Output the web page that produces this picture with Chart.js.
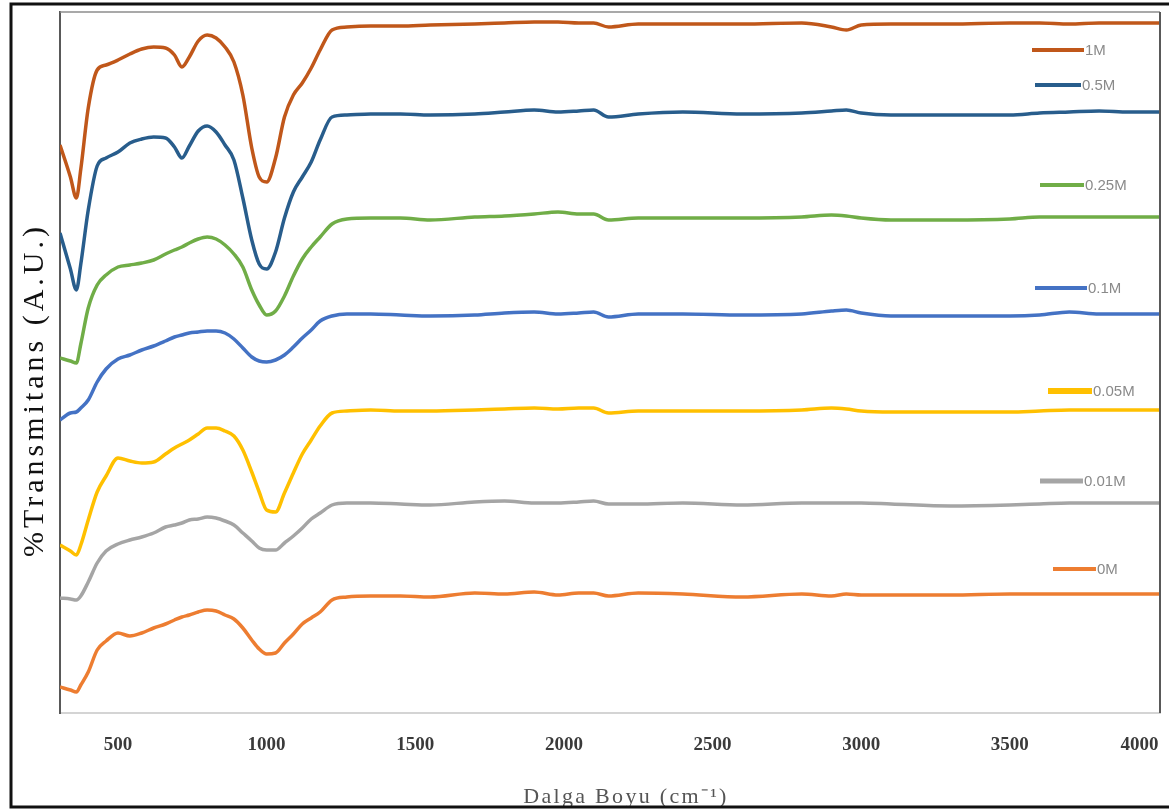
<!DOCTYPE html>
<html>
<head>
<meta charset="utf-8">
<script src="https://cdn.jsdelivr.net/npm/chart.js@4.4.1/dist/chart.umd.min.js"></script>
<style>
    html, body { margin: 0; padding: 0; background: #ffffff; }
    #wrap { position: relative; width: 1169px; height: 811px; }
</style>
</head>
<body>
<div id="wrap"><canvas id="chartFtir"></canvas></div>
<script>
// wavenumber (cm-1) sample points shared by every spectrum
const wavenumbers = [305, 340, 360, 375, 400, 430, 460, 500, 540, 580, 620, 660, 690, 715, 740, 770, 800, 830, 860, 890,
    920, 950, 975, 1000, 1030, 1060, 1090, 1120, 1150, 1180, 1220, 1270, 1350, 1450, 1550, 1700, 1800, 1900, 1980, 2050,
    2100, 2150, 2250, 2400, 2600, 2800, 2900, 2950, 3000, 3100, 3300, 3500, 3600, 3700, 3800, 3900, 4005];

// transmittance, arbitrary units (curves are stacked with offsets)
const t1M = [568, 536, 515, 544, 605, 643, 648, 653, 659, 664, 666, 665, 658, 646, 656, 672, 678, 675, 666, 651,
    618, 565, 536, 531, 555, 596, 618, 630, 645, 663, 683, 686, 687, 687, 688, 689, 690, 691, 691, 690,
    690, 686, 689, 689, 689, 690, 686, 683, 688, 689, 689, 690, 690, 689, 690, 690, 690];
const t05M = [480, 444, 423, 449, 503, 547, 555, 561, 570, 574, 576, 575, 566, 555, 567, 582, 587, 581, 568, 553,
    515, 473, 449, 444, 461, 495, 521, 536, 551, 573, 596, 598, 599, 599, 598, 599, 601, 603, 601, 602,
    603, 596, 599, 601, 599, 600, 602, 603, 600, 598, 598, 598, 600, 601, 602, 601, 601];
const t025M = [355, 352, 350, 369, 405, 428, 438, 446, 448, 450, 453, 459, 463, 466, 470, 474, 476, 474, 468, 459,
    446, 423, 408, 398, 402, 417, 437, 454, 466, 476, 489, 494, 495, 495, 493, 496, 497, 499, 501, 499,
    499, 493, 495, 495, 495, 496, 498, 497, 495, 493, 493, 494, 496, 496, 496, 496, 496];
const t01M = [293, 300, 301, 305, 313, 331, 344, 354, 358, 363, 367, 372, 376, 378, 380, 381, 382, 382, 380, 374,
    365, 356, 352, 351, 353, 358, 366, 375, 383, 392, 397, 399, 399, 398, 397, 398, 400, 401, 399, 400,
    401, 396, 399, 399, 398, 399, 402, 403, 400, 397, 397, 397, 398, 401, 399, 399, 399];
const t005M = [168, 162, 158, 168, 193, 221, 237, 255, 252, 250, 251, 259, 265, 269, 273, 279, 285, 285, 282, 277,
    263, 241, 221, 203, 201, 220, 240, 259, 273, 287, 300, 302, 303, 302, 302, 303, 304, 305, 304, 305,
    305, 300, 302, 302, 302, 303, 305, 304, 302, 301, 301, 301, 302, 303, 303, 303, 303];
const t001M = [115, 114, 113, 117, 131, 150, 162, 169, 173, 176, 180, 186, 188, 190, 193, 194, 196, 195, 192, 188,
    180, 172, 165, 163, 163, 170, 177, 185, 194, 200, 208, 210, 210, 209, 208, 211, 212, 210, 210, 211,
    212, 209, 209, 210, 208, 210, 210, 210, 210, 209, 207, 208, 209, 210, 210, 210, 210];
const t0M = [26, 23, 21, 28, 41, 63, 72, 80, 77, 80, 85, 89, 93, 96, 98, 101, 103, 102, 98, 94,
    85, 73, 64, 59, 60, 70, 79, 89, 95, 101, 113, 116, 117, 117, 116, 120, 119, 121, 118, 120,
    120, 117, 120, 119, 116, 119, 117, 119, 118, 118, 118, 119, 119, 119, 119, 119, 119];

const seriesLabels = ['1M', '0.5M', '0.25M', '0.1M', '0.05M', '0.01M', '0M'];
const tickValues = [500, 1000, 1500, 2000, 2500, 3000, 3500, 4000];

(() => {
    const palette = ['#c0571a', '#285d8c', '#70ad47', '#4472c4', '#ffc000', '#a5a5a5', '#ed7d31'];
    const seriesValues = [t1M, t05M, t025M, t01M, t005M, t001M, t0M];
    const serif = '"Liberation Serif", "Times New Roman", serif';

    // legend entries sit at hand-placed spots inside the plot, like the original figure
    const legendSpots = [
        { x1: 1032, x2: 1084, y: 50, w: 4 },
        { x1: 1035, x2: 1081, y: 85, w: 4 },
        { x1: 1040, x2: 1084, y: 185, w: 4 },
        { x1: 1035, x2: 1087, y: 288, w: 4 },
        { x1: 1048, x2: 1092, y: 391, w: 6 },
        { x1: 1040, x2: 1083, y: 481, w: 5 },
        { x1: 1053, x2: 1096, y: 569, w: 4 }
    ];

    const figurePlugin = {
        id: 'figureDecor',
        afterDraw(chart) {
            const { ctx, chartArea: area } = chart;
            ctx.save();
            // plot frame
            ctx.lineWidth = 1.5;
            ctx.strokeStyle = '#8c8c8c';
            ctx.beginPath();
            ctx.moveTo(area.left, area.top);
            ctx.lineTo(area.right, area.top);
            ctx.stroke();
            ctx.lineWidth = 2;
            ctx.strokeStyle = '#595959';
            ctx.beginPath();
            ctx.moveTo(area.right, area.top);
            ctx.lineTo(area.right, area.bottom);
            ctx.stroke();

            // legend
            ctx.font = '15px "Liberation Sans", Arial, sans-serif';
            ctx.textBaseline = 'middle';
            ctx.textAlign = 'left';
            legendSpots.forEach((spot, i) => {
                ctx.strokeStyle = palette[i];
                ctx.lineWidth = spot.w;
                ctx.lineCap = 'butt';
                ctx.beginPath();
                ctx.moveTo(spot.x1, spot.y);
                ctx.lineTo(spot.x2, spot.y);
                ctx.stroke();
                ctx.fillStyle = '#8a8a8a';
                ctx.fillText(seriesLabels[i], spot.x2 + 1, spot.y + 1);
            });

            // axis titles
            ctx.fillStyle = '#111111';
            ctx.font = '30px ' + serif;
            ctx.letterSpacing = '4px';
            ctx.textAlign = 'center';
            ctx.translate(35, 390);
            ctx.rotate(-Math.PI / 2);
            ctx.fillText('%Transmitans (A.U.)', 0, 0);
            ctx.setTransform(1, 0, 0, 1, 0, 0);
            ctx.letterSpacing = '2.3px';
            ctx.fillStyle = '#555555';
            ctx.font = '22px ' + serif;
            ctx.fillText('Dalga Boyu (cm\u207B\u00B9)', 626, 797);
            ctx.letterSpacing = '0px';

            // outer picture border
            ctx.strokeStyle = '#111111';
            ctx.lineWidth = 3;
            ctx.beginPath();
            ctx.moveTo(1169, 4);
            ctx.lineTo(11, 4);
            ctx.lineTo(11, 807);
            ctx.lineTo(1169, 807);
            ctx.stroke();
            ctx.restore();
        }
    };

    const canvas = document.getElementById('chartFtir');
    new Chart(canvas, {
        type: 'line',
        data: {
            datasets: seriesLabels.map((label, i) => ({
                label,
                data: wavenumbers.map((x, j) => ({ x, y: seriesValues[i][j] })),
                borderColor: palette[i],
                backgroundColor: palette[i],
                borderWidth: 3.5,
                pointRadius: 0,
                cubicInterpolationMode: 'monotone',
                fill: false
            }))
        },
        options: {
            responsive: true,
            maintainAspectRatio: false,
            animation: false,
            layout: { padding: { top: 12, right: 9, left: 0, bottom: 0 } },
            plugins: {
                legend: { display: false },
                tooltip: { enabled: false }
            },
            scales: {
                x: {
                    type: 'linear',
                    min: 305,
                    max: 4005,
                    afterBuildTicks(scale) {
                        scale.ticks = [{ value: 305 }].concat(tickValues.map((value) => ({ value })));
                    },
                    afterFit(scale) {
                        scale.height = 98;
                        scale.paddingLeft = 0;
                        scale.paddingRight = 0;
                    },
                    grid: { display: false, drawTicks: false },
                    border: { display: true, color: '#d4d4d4', width: 2 },
                    ticks: {
                        autoSkip: false,
                        maxRotation: 0,
                        align: 'inner',
                        padding: 21,
                        color: '#3a3a3a',
                        font: { family: serif, size: 19, weight: 'bold' },
                        callback: (value) => (tickValues.includes(value) ? String(value) : '')
                    },
                    title: { display: false }
                },
                y: {
                    min: 0,
                    max: 701,
                    afterFit(scale) {
                        scale.width = 60;
                    },
                    grid: { display: false, drawTicks: false },
                    border: { display: true, color: '#595959', width: 2 },
                    ticks: { display: false },
                    title: { display: false }
                }
            }
        },
        plugins: [figurePlugin]
    });
})();
</script>
</body>
</html>
